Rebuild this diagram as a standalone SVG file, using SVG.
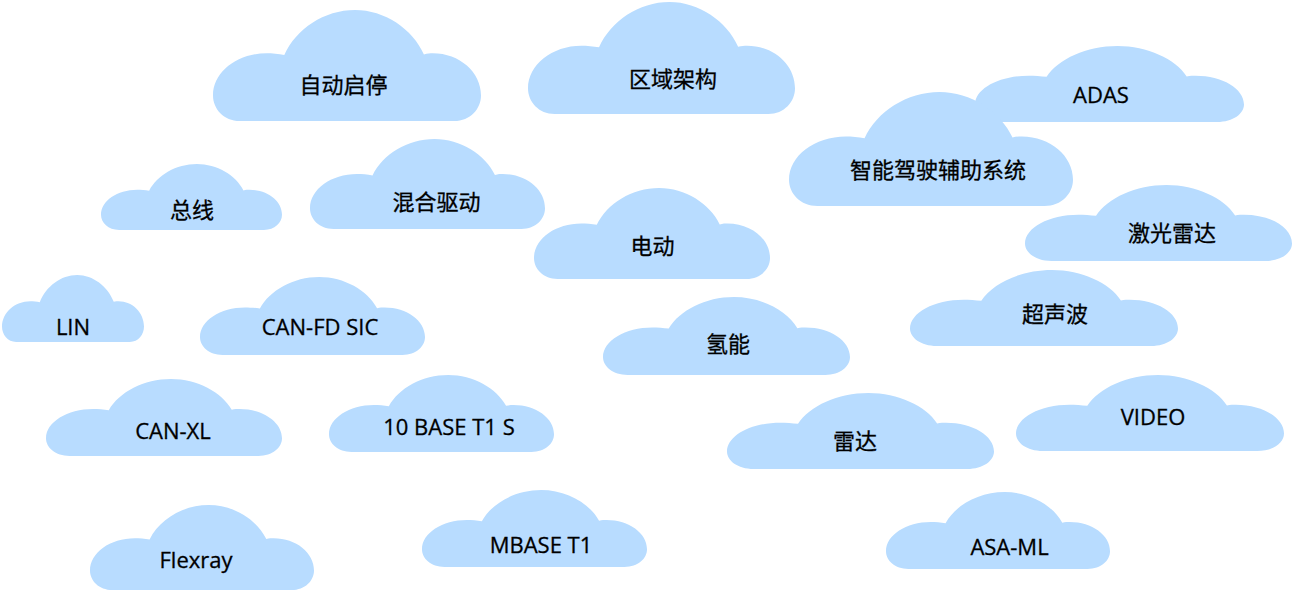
<svg xmlns="http://www.w3.org/2000/svg" width="1295" height="594" viewBox="0 0 1295 594">
<style>
.c{fill:#b8dcff}
text{font-family:"Open Sans","Noto Sans CJK SC",sans-serif;font-size:22px;fill:#000;stroke:#000;stroke-width:.3px;text-anchor:middle}
</style>
<defs><path id="cloud" d="M.1 1C.04 1 0 .89 0 .77C0 .56 .09 .39 .2 .39C.22 .39 .245 .395 .266 .405C.31 .17 .415 0 .53 0C.64 0 .745 .17 .787 .4C.8 .39 .81 .39 .82 .39C.92 .39 1 .56 1 .77C1 .89 .96 1 .9 1Z"/></defs>
<rect width="1295" height="594" fill="#fff"/>
<g id="n1"><use class="c" href="#cloud" transform="translate(213 10) scale(268 111)"/><text x="343.500" y="93">自动启停</text></g>
<g id="n2"><use class="c" href="#cloud" transform="translate(528 2) scale(267 112)"/><text x="673" y="87">区域架构</text></g>
<g id="n3"><use class="c" href="#cloud" transform="translate(975 46) scale(269 76)"/><text x="1101" y="103">ADAS</text></g>
<g id="n4"><use class="c" href="#cloud" transform="translate(789 92) scale(284 114)"/><text x="938" y="178">智能驾驶辅助系统</text></g>
<g id="n5"><use class="c" href="#cloud" transform="translate(101 164) scale(181 66)"/><text x="192" y="218">总线</text></g>
<g id="n6"><use class="c" href="#cloud" transform="translate(310 139) scale(235 90)"/><text x="436.500" y="210">混合驱动</text></g>
<g id="n7"><use class="c" href="#cloud" transform="translate(534 188) scale(236 91)"/><text x="652.500" y="253.500">电动</text></g>
<g id="n8"><use class="c" href="#cloud" transform="translate(1025 185) scale(267 76)"/><text x="1172" y="240.500">激光雷达</text></g>
<g id="n9"><use class="c" href="#cloud" transform="translate(910 270) scale(268 76)"/><text x="1055" y="322">超声波</text></g>
<g id="n10"><use class="c" href="#cloud" transform="translate(2 275) scale(142 67)"/><text x="73" y="335">LIN</text></g>
<g id="n11"><use class="c" href="#cloud" transform="translate(200 277) scale(225 78)"/><text x="320" y="335">CAN-FD SIC</text></g>
<g id="n12"><use class="c" href="#cloud" transform="translate(603 297) scale(247 78)"/><text x="728" y="352">氢能</text></g>
<g id="n13"><use class="c" href="#cloud" transform="translate(46 379) scale(236 77)"/><text x="173" y="439">CAN-XL</text></g>
<g id="n14"><use class="c" href="#cloud" transform="translate(329 375) scale(225 77)"/><text x="449" y="435">10 BASE T1 S</text></g>
<g id="n15"><use class="c" href="#cloud" transform="translate(727 393) scale(267 76)"/><text x="855" y="449">雷达</text></g>
<g id="n16"><use class="c" href="#cloud" transform="translate(1016 375) scale(268 76)"/><text x="1153" y="425">VIDEO</text></g>
<g id="n17"><use class="c" href="#cloud" transform="translate(90 505) scale(224 85)"/><text x="196" y="568">Flexray</text></g>
<g id="n18"><use class="c" href="#cloud" transform="translate(422 490) scale(225 77)"/><text x="541" y="553">MBASE T1</text></g>
<g id="n19"><use class="c" href="#cloud" transform="translate(886 492) scale(224 77)"/><text x="1009.500" y="555">ASA-ML</text></g>
<g id="connectors"></g>
</svg>
